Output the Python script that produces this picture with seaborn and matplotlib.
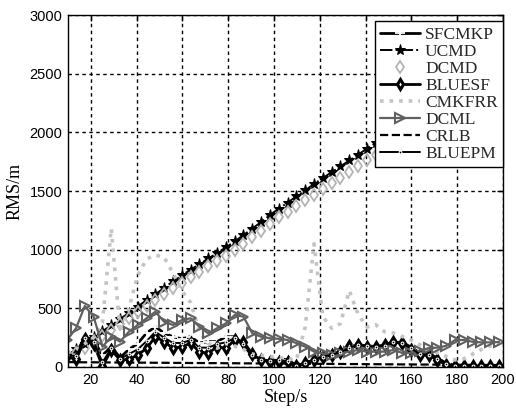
import numpy as np
import pandas as pd
import matplotlib
matplotlib.use("Agg")
import matplotlib.pyplot as plt
import seaborn as sns

steps = [9.65, 13.5, 17.35, 21.2, 25.05, 28.9, 32.75, 36.6, 40.45, 44.3,
         48.15, 52.0, 55.85, 59.7, 63.55, 67.4, 71.25, 75.1, 78.95, 82.8,
         86.65, 90.5, 94.35, 98.2, 102.05, 105.9, 109.75, 113.6, 117.45, 121.3,
         125.15, 129.0, 132.85, 136.7, 140.55, 144.4, 148.25, 152.1, 155.95, 159.8,
         163.65, 167.5, 171.35, 175.2, 179.05, 182.9, 186.75, 190.6, 194.45, 198.3]

sfcmkp = [120, 110, 260, 230, 100, 173, 80, 150, 200, 290,
          343, 290, 258, 240, 258, 205, 216, 216, 258, 258,
          190, 90, 65, 50, 74, 60, 15, 40, 60, 90,
          105, 120, 150, 190, 180, 175, 180, 210, 210, 170,
          120, 110, 80, 30, 15, 10, 10, 10, 10, 10]

ucmd = [100, 150, 200, 255, 305, 355, 410, 460, 515, 570,
        620, 675, 730, 780, 830, 875, 925, 970, 1020, 1070,
        1125, 1180, 1235, 1295, 1350, 1400, 1455, 1505, 1560, 1610,
        1660, 1710, 1760, 1810, 1860, 1910, 1960, 2010, 2060, 2110,
        2160, 2210, 2260, 2310, 2360, 2410, 2460, 2510, 2560, 2610]

dcmd = [75, 120, 165, 220, 265, 315, 365, 415, 465, 520,
        570, 620, 670, 720, 765, 810, 860, 905, 950, 1000,
        1050, 1105, 1160, 1220, 1275, 1320, 1375, 1420, 1470, 1520,
        1565, 1615, 1665, 1710, 1760, 1810, 1855, 1905, 1950, 2000,
        2045, 2095, 2140, 2190, 2235, 2285, 2330, 2380, 2430, 2475]

bluesf = [90, 65, 235, 200, 5, 145, 60, 65, 102, 159,
          258, 216, 159, 173, 202, 131, 116, 173, 159, 230,
          216, 110, 60, 45, 45, 40, 5, 31, 60, 88,
          102, 131, 180, 187, 173, 173, 187, 216, 202, 145,
          102, 102, 60, 17, 5, 5, 5, 5, 5, 5]

cmkfrr = [120, 145, 200, 250, 380, 1180, 300, 500, 780, 920,
          954, 935, 800, 650, 550, 300, 200, 160, 200, 180,
          150, 110, 100, 90, 80, 70, 60, 340, 1050, 430,
          330, 370, 650, 450, 340, 360, 300, 290, 260, 230,
          190, 150, 120, 90, 60, 70, 110, 150, 180, 200]

dcml = [230, 330, 520, 429, 173, 258, 216, 301, 358, 415,
        471, 386, 358, 400, 415, 343, 287, 330, 372, 443,
        429, 287, 258, 245, 240, 230, 204, 173, 131, 116,
        102, 116, 131, 145, 131, 131, 131, 145, 120, 120,
        140, 160, 165, 180, 230, 230, 215, 210, 210, 213]

crlb = [42, 41, 40, 40, 39, 39, 38, 38, 37, 37,
        36, 36, 35, 35, 34, 34, 33, 33, 32, 32,
        31, 31, 30, 30, 29, 29, 28, 28, 27, 27,
        26, 26, 25, 25, 24, 24, 23, 23, 22, 22,
        21, 21, 20, 20, 19, 19, 18, 18, 17, 17]

bluepm = [105, 90, 250, 215, 40, 160, 70, 110, 150, 220,
          300, 250, 205, 205, 230, 165, 165, 195, 210, 245,
          200, 100, 62, 48, 60, 50, 10, 35, 60, 89,
          104, 125, 165, 188, 176, 174, 183, 213, 206, 158,
          111, 106, 70, 24, 10, 8, 8, 8, 8, 8]

x_ticks = [20, 40, 60, 80, 100, 120, 140, 160, 180, 200]
y_ticks = [0, 500, 1000, 1500, 2000, 2500, 3000]

sns.set_theme(style="white")
plt.rcParams['font.family'] = ['Liberation Sans', 'DejaVu Sans']

fig = plt.figure(figsize=(5.16, 4.12), dpi=100)
ax = fig.add_axes([68 / 516, 1 - 367 / 412, (503 - 68) / 516, (367 - 15) / 412])

df = pd.DataFrame({"step": steps, "SFCMKP": sfcmkp, "UCMD": ucmd, "DCMD": dcmd,
                   "BLUESF": bluesf, "CMKFRR": cmkfrr, "DCML": dcml,
                   "CRLB": crlb, "BLUEPM": bluepm})

styles = {
    "SFCMKP": dict(color="black", linestyle="-", linewidth=2.0, marker="+", markersize=7, markeredgewidth=1.3),
    "UCMD": dict(color="black", linestyle="-.", linewidth=1.4, marker="*", markersize=8,
                 markerfacecolor="black", markeredgecolor="black"),
    "DCMD": dict(color="#b4b4b4", linestyle="none", marker="d", markersize=6.5,
                 markerfacecolor="none", markeredgecolor="#b4b4b4", markeredgewidth=1.3),
    "BLUESF": dict(color="black", linestyle="-", linewidth=2.0, marker="d", markersize=5.5,
                   markerfacecolor="white", markeredgecolor="black", markeredgewidth=2.2),
    "CMKFRR": dict(color="#c4c4c4", linestyle=":", linewidth=2.6),
    "DCML": dict(color="#606060", linestyle="-", linewidth=1.6, marker=">", markersize=7.5,
                 markerfacecolor="none", markeredgecolor="#606060", markeredgewidth=1.5),
    "CRLB": dict(color="black", linestyle="--", linewidth=1.6),
    "BLUEPM": dict(color="black", linestyle="-", linewidth=1.4, marker=".", markersize=4),
}

for name in ["SFCMKP", "UCMD", "DCMD", "BLUESF", "CMKFRR", "DCML", "CRLB", "BLUEPM"]:
    sns.lineplot(data=df, x="step", y=name, ax=ax, label=name, estimator=None,
                 sort=False, **styles[name])

ax.set_xlim(10, 200)
ax.set_ylim(0, 3000)
ax.set_xticks(x_ticks)
ax.set_yticks(y_ticks)
ax.tick_params(direction="in", top=True, right=True, length=4, width=1,
               labelsize=10.5, colors="black", pad=4)
ax.grid(True, linestyle=(0, (2.5, 2.5)), color="black", linewidth=1.0)
for sp in ax.spines.values():
    sp.set_color("black")
    sp.set_linewidth(1.0)

serif = ['Liberation Serif', 'DejaVu Serif']
ax.set_xlabel("Step/s", family=serif, fontsize=13, color="black", labelpad=2)
ax.set_ylabel("RMS/m", family=serif, fontsize=13, color="black", labelpad=4)

leg = ax.legend(loc="upper right", bbox_to_anchor=(1.0, 0.982), borderaxespad=0.0,
                prop={'family': serif, 'size': 12.5}, frameon=True, fancybox=False,
                edgecolor="black", framealpha=1.0, handlelength=2.3, handletextpad=0.3,
                labelspacing=0.05, borderpad=0.3)
leg.get_frame().set_linewidth(1.0)

fig.savefig("out.png", dpi=100)
